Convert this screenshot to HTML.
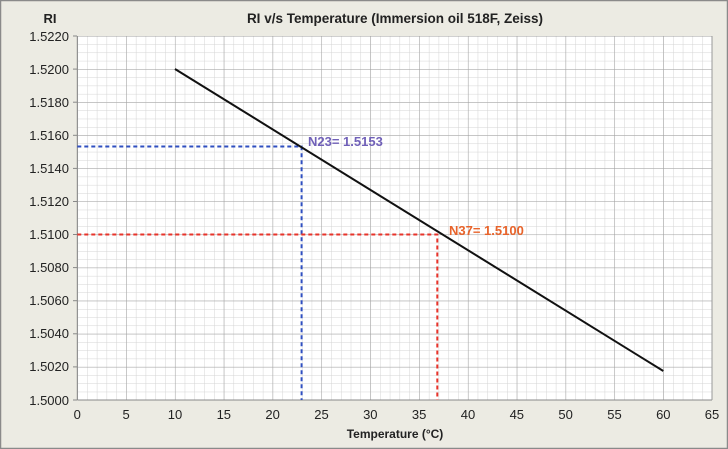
<html><body style="margin:0;background:#fff">
<svg width="728" height="449" xmlns="http://www.w3.org/2000/svg" font-family="Liberation Sans, sans-serif">
<defs>
<pattern id="minor" x="77.3" y="36" width="9.766" height="8.2727" patternUnits="userSpaceOnUse">
<path d="M0 0V8.2727M0 0H9.766" stroke="#d4d4d4" stroke-width="1" fill="none"/>
</pattern>
<pattern id="major" x="77.3" y="36" width="48.83" height="33.09" patternUnits="userSpaceOnUse">
<path d="M0 0V33.09M0 0H48.83" stroke="#a0a0a0" stroke-width="1" fill="none"/>
</pattern>
</defs>
<rect x="0.5" y="0.5" width="727" height="448" fill="#ecebe3" stroke="#8a8a8a" stroke-width="1.5"/>
<rect x="77.3" y="36" width="634.7" height="364" fill="#fff"/>
<rect x="77.3" y="36" width="634.7" height="364" fill="url(#minor)"/>
<rect x="77.3" y="36" width="634.7" height="364" fill="url(#major)"/>
<line x1="77.3" y1="400" x2="712" y2="400" stroke="#888"/>
<line x1="712" y1="36" x2="712" y2="400" stroke="#999"/>
<line x1="77.3" y1="36" x2="77.3" y2="400" stroke="#888"/>
<g stroke="#888">
<line x1="73" y1="36" x2="77" y2="36"/><line x1="73" y1="69.1" x2="77" y2="69.1"/><line x1="73" y1="102.2" x2="77" y2="102.2"/><line x1="73" y1="135.3" x2="77" y2="135.3"/><line x1="73" y1="168.4" x2="77" y2="168.4"/><line x1="73" y1="201.5" x2="77" y2="201.5"/><line x1="73" y1="234.5" x2="77" y2="234.5"/><line x1="73" y1="267.6" x2="77" y2="267.6"/><line x1="73" y1="300.7" x2="77" y2="300.7"/><line x1="73" y1="333.8" x2="77" y2="333.8"/><line x1="73" y1="366.9" x2="77" y2="366.9"/><line x1="73" y1="400" x2="77" y2="400"/>
</g>
<g font-size="13" fill="#222" text-anchor="end">
<text x="69" y="41">1.5220</text><text x="69" y="74">1.5200</text><text x="69" y="107">1.5180</text><text x="69" y="140">1.5160</text><text x="69" y="173">1.5140</text><text x="69" y="206">1.5120</text><text x="69" y="239">1.5100</text><text x="69" y="272">1.5080</text><text x="69" y="305">1.5060</text><text x="69" y="338">1.5040</text><text x="69" y="371">1.5020</text><text x="69" y="405">1.5000</text>
</g>
<g font-size="13" fill="#222" text-anchor="middle">
<text x="77.3" y="419">0</text><text x="126.1" y="419">5</text><text x="175" y="419">10</text><text x="223.8" y="419">15</text><text x="272.6" y="419">20</text><text x="321.5" y="419">25</text><text x="370.3" y="419">30</text><text x="419.1" y="419">35</text><text x="468" y="419">40</text><text x="516.8" y="419">45</text><text x="565.6" y="419">50</text><text x="614.5" y="419">55</text><text x="663.3" y="419">60</text><text x="712" y="419">65</text>
</g>
<text x="50" y="23" font-size="13" font-weight="bold" text-anchor="middle" fill="#222">RI</text>
<text x="395" y="23" font-size="13.5" font-weight="bold" text-anchor="middle" fill="#222">RI v/s Temperature  (Immersion oil 518F, Zeiss)</text>
<text x="395" y="438" font-size="12" font-weight="bold" text-anchor="middle" fill="#222">Temperature (°C)</text>
<polyline points="77.3,146.5 301.6,146.5 301.6,400" fill="none" stroke="#2f4fc0" stroke-width="2" stroke-dasharray="4,3"/>
<polyline points="77.3,234.5 437.3,234.5 437.3,400" fill="none" stroke="#e8332a" stroke-width="2" stroke-dasharray="4,3"/>
<line x1="175" y1="69" x2="663.3" y2="371" stroke="#111" stroke-width="2"/>
<text x="308" y="146" font-size="13" font-weight="bold" fill="#7060b8">N23= 1.5153</text>
<text x="449" y="235" font-size="13" font-weight="bold" fill="#e8632a">N37= 1.5100</text>
</svg>
</body></html>
